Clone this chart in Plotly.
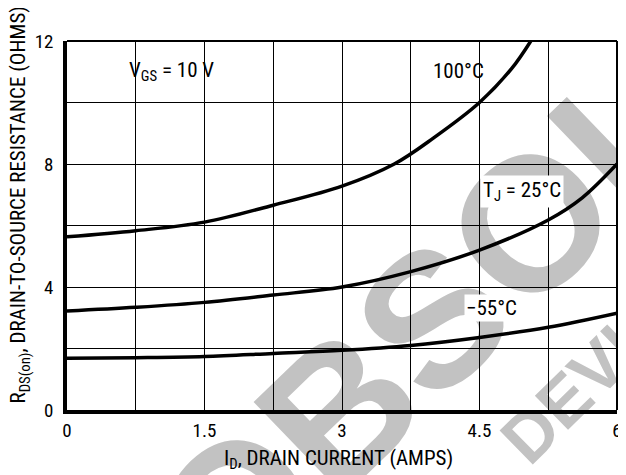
import math
import plotly.graph_objects as go

# ---- data ----
x_100 = [0, 0.75, 1.5, 2.25, 3.0, 3.57, 4.0, 4.5, 4.85, 5.06]
y_100 = [5.63, 5.83, 6.11, 6.66, 7.28, 8.0, 8.85, 10.0, 11.1, 12.0]

x_25 = [0, 0.75, 1.5, 2.25, 3.0, 3.75, 4.5, 5.25, 5.62, 6.0]
y_25 = [3.22, 3.34, 3.5, 3.74, 4.0, 4.5, 5.2, 6.18, 6.9, 8.0]

x_m55 = [0, 0.75, 1.5, 2.25, 3.0, 3.75, 4.5, 5.25, 6.0]
y_m55 = [1.68, 1.7, 1.74, 1.84, 1.94, 2.1, 2.36, 2.69, 3.15]

x_ticks = [0, 1.5, 3, 4.5, 6]
x_tick_labels = ["0", "1.5", "3", "4.5", "6"]
y_ticks = [0, 4, 8, 12]
y_tick_labels = ["0", "4", "8", "12"]

FONT = "Liberation Sans Narrow, Arial Narrow, Roboto Condensed, Liberation Sans, sans-serif"
WM_FONT = "Liberation Sans, Arial, sans-serif"
WM_COLOR = "#c2c2c2"

fig = go.Figure()
for xs, ys in [(x_100, y_100), (x_25, y_25), (x_m55, y_m55)]:
    fig.add_trace(go.Scatter(x=xs, y=ys, mode="lines",
                             line=dict(color="black", width=3.5, shape="spline", smoothing=1.0),
                             showlegend=False, hoverinfo="skip"))

# page has an 8px body margin
OFF = 8
W, H = 626 - OFF, 475 - OFF
L, R, T, B = 67 - OFF, 4, 41 - OFF, 65
PW, PH = W - L - R, H - T - B


def px2paper(px, py):
    """page pixel -> paper coordinates"""
    return (px - OFF - L) / PW, (H - B - (py - OFF)) / PH


def wm_letter(ch, cx, cy, angle, size, length=40):
    # compensate the label's rendering offset (measured ~ (8, 12) px at 190 px)
    cx -= 8 * size / 190
    cy -= 12 * size / 190
    a = math.radians(-angle)
    dx, dy = math.cos(a) * length / 2, math.sin(a) * length / 2
    x0, y0 = px2paper(cx - dx, cy - dy)
    x1, y1 = px2paper(cx + dx, cy + dy)
    fig.add_shape(type="line", xref="paper", yref="paper", x0=x0, y0=y0, x1=x1, y1=y1,
                  layer="below", line=dict(color="rgba(0,0,0,0)", width=1),
                  label=dict(text=ch, textangle=angle, textposition="middle",
                             xanchor="center", yanchor="middle",
                             font=dict(size=size, color=WM_COLOR, family=WM_FONT, weight="bold")))


def watermark(word, widths, first_center, angle, size):
    a = math.radians(-angle)
    ux, uy = math.cos(a), -math.sin(a)  # screen direction along baseline
    cx, cy = first_center
    for i, ch in enumerate(word):
        if i > 0:
            step = (widths[i - 1] + widths[i]) / 2 * size
            cx += ux * step
            cy += uy * step
        if -150 < cx < 780 and -150 < cy < 630:
            wm_letter(ch, cx, cy, angle, size)


# Helvetica-Bold advance widths (em)
WIDTHS = {"O": .778, "B": .722, "S": .667, "L": .611, "E": .667, "T": .611,
          "D": .722, "V": .667, "I": .278, "C": .722}
watermark("OBSOL", [WIDTHS[c] for c in "OBSOL"], (234, 508), -44, 190)
watermark("DEVIC", [WIDTHS[c] for c in "DEVIC"], (533, 433), -44.4, 69)

# frame top / right (thin)
fig.add_shape(type="line", xref="paper", yref="paper", x0=0, y0=1, x1=1, y1=1,
              line=dict(color="black", width=2), layer="above")
fig.add_shape(type="line", xref="paper", yref="paper", x0=1, y0=0, x1=1, y1=1,
              line=dict(color="black", width=2), layer="above")

# annotations in plot
ann_font = dict(family=FONT, size=21, color="black")
fig.add_annotation(x=1.14, y=11.0, text="V<sub>GS</sub> = 10 V", showarrow=False, font=ann_font)
fig.add_annotation(x=4.27, y=11.04, text="100°C", showarrow=False, font=ann_font)
fig.add_annotation(x=4.96, y=7.12, text="T<sub>J</sub> = 25°C", showarrow=False, font=ann_font,
                   bgcolor="white", borderpad=2)
fig.add_annotation(x=4.63, y=3.32, text="−55°C", showarrow=False, font=ann_font,
                   bgcolor="white", borderpad=1)

# axis titles
px, py = px2paper(341, 459)
fig.add_annotation(xref="paper", yref="paper", x=px, y=py, xanchor="center", yanchor="middle",
                   text="I<sub>D</sub>, DRAIN CURRENT (AMPS)", showarrow=False, font=ann_font)
px, py = px2paper(19, 205)
fig.add_annotation(xref="paper", yref="paper", x=px, y=py, xanchor="center", yanchor="middle",
                   text="R<sub>DS(on)</sub>, DRAIN-TO-SOURCE RESISTANCE (OHMS)", showarrow=False,
                   font=dict(family=FONT, size=21, color="black"), textangle=-90)

fig.update_layout(
    width=W, height=H,
    margin=dict(l=L, r=R, t=T, b=B),
    paper_bgcolor="white", plot_bgcolor="rgba(0,0,0,0)",
    font=dict(family=FONT, size=19, color="black"),
    xaxis=dict(range=[0, 6], tickvals=x_ticks, ticktext=x_tick_labels,
               showgrid=True, gridcolor="black", gridwidth=1.3,
               minor=dict(dtick=0.75, tick0=0, showgrid=True, gridcolor="black", gridwidth=1.3),
               showline=True, linecolor="black", linewidth=3.5, zeroline=False,
               ticks="", ticklabelstandoff=0, ticklabeloverflow="allow",
               tickfont=dict(size=19, family=FONT)),
    yaxis=dict(range=[0, 12], tickvals=y_ticks, ticktext=y_tick_labels,
               showgrid=True, gridcolor="black", gridwidth=1.3,
               minor=dict(dtick=2, tick0=0, showgrid=True, gridcolor="black", gridwidth=1.3),
               showline=True, linecolor="black", linewidth=3.5, zeroline=False,
               ticks="", ticklabelstandoff=6, ticklabeloverflow="allow",
               tickfont=dict(size=19, family=FONT)),
)

fig.write_html("out.html")
